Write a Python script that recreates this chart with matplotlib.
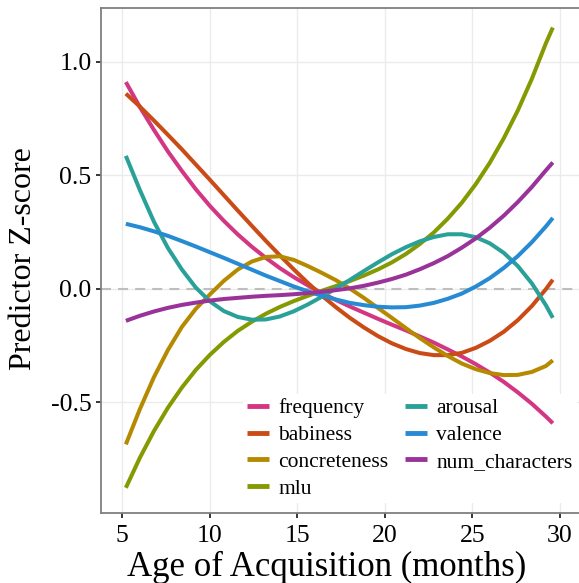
import matplotlib
matplotlib.use("Agg")
import matplotlib.pyplot as plt
from matplotlib.ticker import FixedLocator, FixedFormatter

# Age of acquisition (months)
age = [5.2, 6.0, 6.8, 7.6, 8.4, 9.2, 10.0, 10.8, 11.6, 12.4, 13.2, 14.0, 14.8, 15.6, 16.4, 17.2,
       18.0, 18.8, 19.6, 20.4, 21.2, 22.0, 22.8, 23.6, 24.4, 25.2, 26.0, 26.8, 27.6, 28.4, 29.2, 29.6]

frequency = [0.910, 0.800, 0.700, 0.605, 0.519, 0.438, 0.365, 0.299, 0.239, 0.185, 0.136, 0.091,
             0.051, 0.015, -0.019, -0.049, -0.078, -0.105, -0.132, -0.158, -0.183, -0.210, -0.237,
             -0.267, -0.298, -0.332, -0.369, -0.410, -0.456, -0.506, -0.562, -0.592]
babiness = [0.859, 0.802, 0.741, 0.678, 0.614, 0.547, 0.480, 0.412, 0.344, 0.277, 0.211, 0.147,
            0.085, 0.026, -0.030, -0.081, -0.128, -0.170, -0.208, -0.240, -0.265, -0.283, -0.292,
            -0.292, -0.282, -0.260, -0.229, -0.189, -0.138, -0.076, -0.002, 0.040]
concreteness = [-0.685, -0.530, -0.390, -0.270, -0.168, -0.088, -0.025, 0.035, 0.085, 0.120, 0.140,
                0.143, 0.127, 0.100, 0.070, 0.038, 0.001, -0.040, -0.084, -0.128, -0.173, -0.217,
                -0.258, -0.296, -0.329, -0.354, -0.371, -0.380, -0.379, -0.366, -0.340, -0.315]
mlu = [-0.876, -0.744, -0.627, -0.524, -0.435, -0.357, -0.291, -0.234, -0.185, -0.145, -0.110,
       -0.080, -0.054, -0.031, -0.009, 0.012, 0.034, 0.058, 0.085, 0.116, 0.153, 0.197, 0.248,
       0.309, 0.379, 0.461, 0.555, 0.663, 0.785, 0.924, 1.080, 1.150]
arousal = [0.585, 0.435, 0.296, 0.180, 0.085, 0.005, -0.055, -0.098, -0.124, -0.136, -0.135, -0.122,
           -0.099, -0.069, -0.035, 0.001, 0.039, 0.078, 0.116, 0.152, 0.183, 0.209, 0.228, 0.240,
           0.240, 0.227, 0.200, 0.158, 0.100, 0.024, -0.072, -0.128]
valence = [0.286, 0.271, 0.253, 0.233, 0.210, 0.186, 0.161, 0.136, 0.110, 0.084, 0.058, 0.034, 0.010,
           -0.011, -0.031, -0.047, -0.062, -0.072, -0.079, -0.082, -0.081, -0.074, -0.062, -0.044,
           -0.021, 0.010, 0.047, 0.092, 0.144, 0.205, 0.274, 0.312]
num_characters = [-0.141, -0.119, -0.100, -0.084, -0.071, -0.061, -0.052, -0.045, -0.040, -0.035,
                  -0.031, -0.028, -0.024, -0.019, -0.013, -0.006, 0.002, 0.013, 0.027, 0.043, 0.062,
                  0.086, 0.113, 0.144, 0.181, 0.222, 0.269, 0.322, 0.382, 0.448, 0.521, 0.556]

series_names = ["frequency", "babiness", "concreteness", "mlu", "arousal", "valence", "num_characters"]
series_values = [frequency, babiness, concreteness, mlu, arousal, valence, num_characters]
colors = ["#d33682", "#cb4b16", "#b58900", "#859900", "#2aa198", "#268bd2", "#993399"]

x_ticks = [5, 10, 15, 20, 25, 30]
y_ticks = [-0.5, 0.0, 0.5, 1.0]
y_tick_labels = ["-0.5", "0.0", "0.5", "1.0"]

plt.rcParams['font.family'] = ['Liberation Serif', 'DejaVu Serif']
fig = plt.figure(figsize=(5.79, 5.83), dpi=100)
ax = fig.add_axes([101/579, 70/583, 480/579, 505/583])
ax.set_xlim(3.78, 31.21)
ax.set_ylim(-0.987, 1.236)
ax.grid(True, color="#EBEBEB", lw=1.0, zorder=0)
ax.set_axisbelow(True)
ax.axhline(0, color="#BEBEBE", lw=1.5, dashes=(4.8, 3.4), zorder=1)
for name, vals, col in zip(series_names, series_values, colors):
    ax.plot(age, vals, color=col, lw=2.9, solid_capstyle='butt', solid_joinstyle='round',
            label=name, zorder=3)
ax.xaxis.set_major_locator(FixedLocator(x_ticks))
ax.yaxis.set_major_locator(FixedLocator(y_ticks))
ax.yaxis.set_major_formatter(FixedFormatter(y_tick_labels))
for s in ["left", "bottom", "top"]:
    ax.spines[s].set_color("#7F7F7F")
    ax.spines[s].set_linewidth(1.3)
ax.spines["right"].set_visible(False)
ax.tick_params(axis="both", length=3.8, width=1.1, color="black", labelsize=18.5,
               labelcolor="black")
ax.tick_params(axis="x", pad=5)
ax.tick_params(axis="y", pad=3)
fig.text(327/579, 1 - 567/583, "Age of Acquisition (months)", fontsize=25, ha="center", va="center")
fig.text(24/579, 1 - 259/583, "Predictor Z-score", fontsize=23, ha="center", va="center",
         rotation=90)
leg = ax.legend(ncol=2, loc="upper left", bbox_to_anchor=(243/579, 1-394/583),
                bbox_transform=fig.transFigure,
                frameon=True, facecolor="white", edgecolor="none", framealpha=1, fontsize=15.5,
                handlelength=1.0, handletextpad=0.45, columnspacing=0.76, labelspacing=0.31,
                borderpad=0.2, borderaxespad=0)
for h in leg.get_lines():
    h.set_linewidth(3.5)
leg.set_zorder(2)
fig.savefig("out.png")
